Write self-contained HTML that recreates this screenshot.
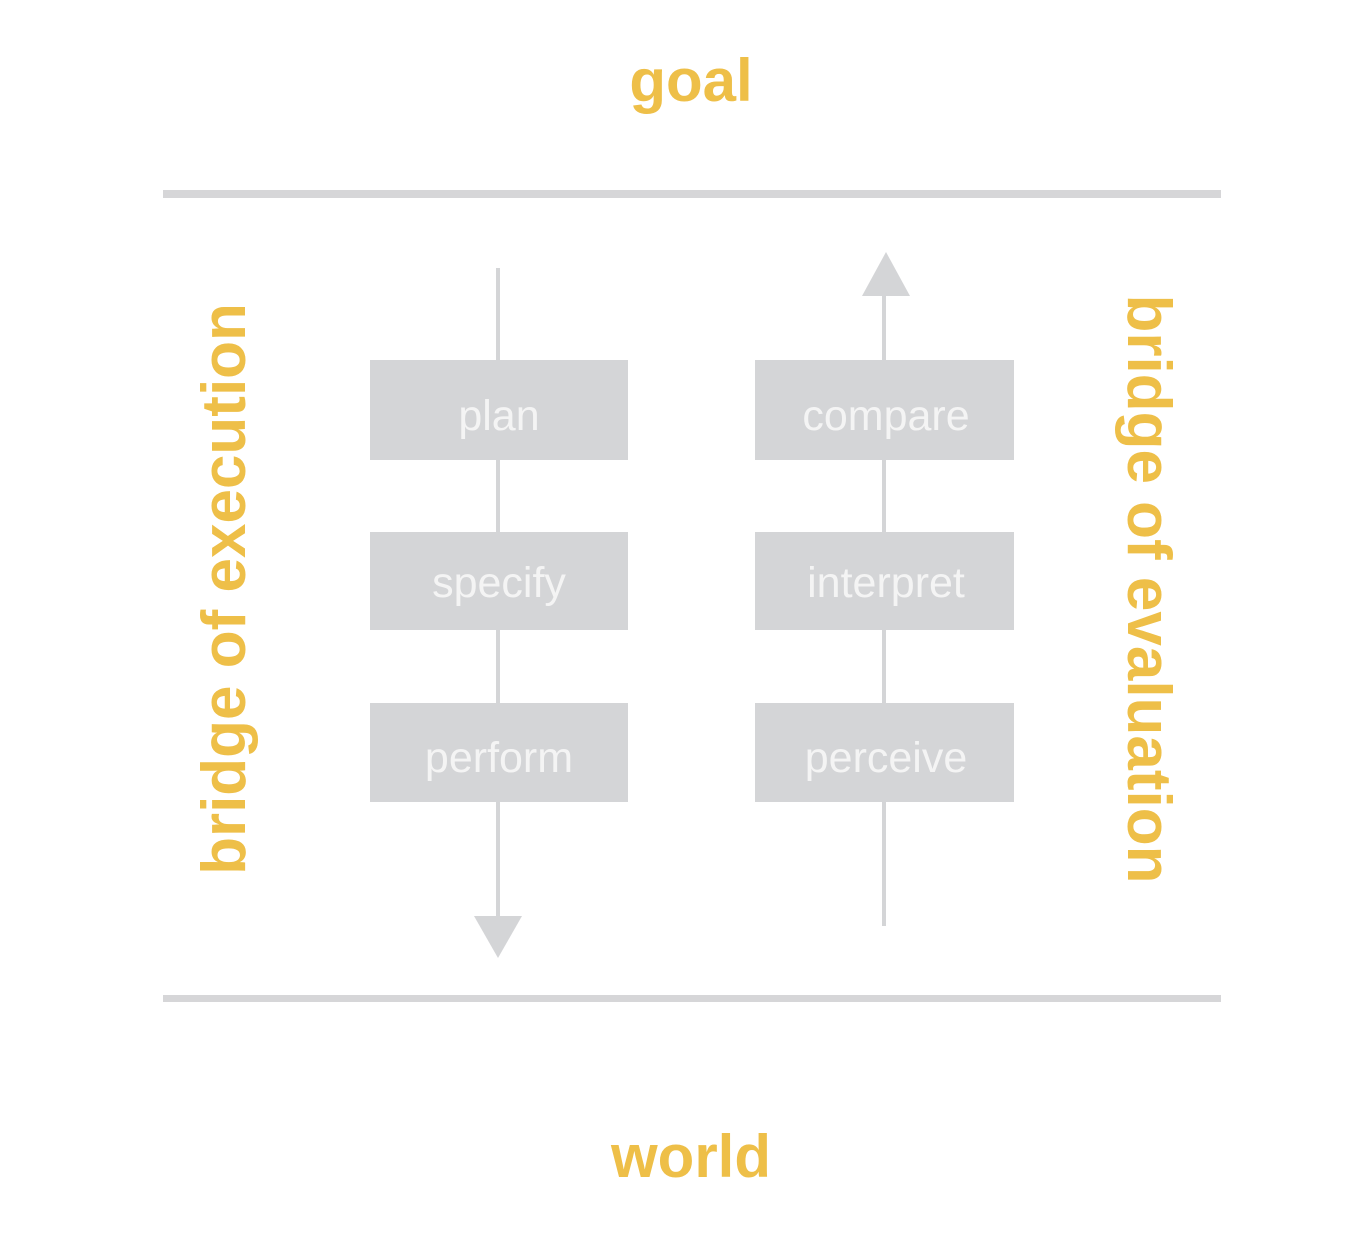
<!DOCTYPE html>
<html><head><style>
body{margin:0;background:#fff;}
svg{display:block}
</style></head><body>
<svg width="1362" height="1254" viewBox="0 0 1362 1254" xmlns="http://www.w3.org/2000/svg">
<rect width="1362" height="1254" fill="#fff"/>
<g font-family="Liberation Sans, sans-serif" font-weight="bold" fill="#eebf48">
<text x="691" y="101" font-size="60" text-anchor="middle">goal</text>
<text x="691" y="1177" font-size="60" text-anchor="middle">world</text>
<text transform="translate(245,589) rotate(-90)" font-size="62" text-anchor="middle">bridge of execution</text>
<text transform="translate(1128,589) rotate(90)" font-size="62" text-anchor="middle">bridge of evaluation</text>
</g>
<rect x="163" y="190" width="1058" height="8" fill="#d6d6d8"/>
<rect x="163" y="995" width="1058" height="7" fill="#d6d6d8"/>
<rect x="496" y="268" width="4" height="652" fill="#d4d5d7"/>
<polygon points="474,916 522,916 498,958" fill="#d4d5d7"/>
<rect x="882" y="292" width="4" height="634" fill="#d4d5d7"/>
<polygon points="862,296 910,296 886,252" fill="#d4d5d7"/>
<g fill="#d4d5d7">
<rect x="370" y="360" width="258" height="100"/>
<rect x="370" y="532" width="258" height="98"/>
<rect x="370" y="703" width="258" height="99"/>
<rect x="755" y="360" width="259" height="100"/>
<rect x="755" y="532" width="259" height="98"/>
<rect x="755" y="703" width="259" height="99"/>
</g>
<g font-family="Liberation Sans, sans-serif" font-size="43" fill="#f4f4f4" text-anchor="middle">
<text x="499" y="430">plan</text>
<text x="499" y="597">specify</text>
<text x="499" y="772">perform</text>
<text x="886" y="430">compare</text>
<text x="886" y="597">interpret</text>
<text x="886" y="772">perceive</text>
</g>
</svg>
</body></html>
